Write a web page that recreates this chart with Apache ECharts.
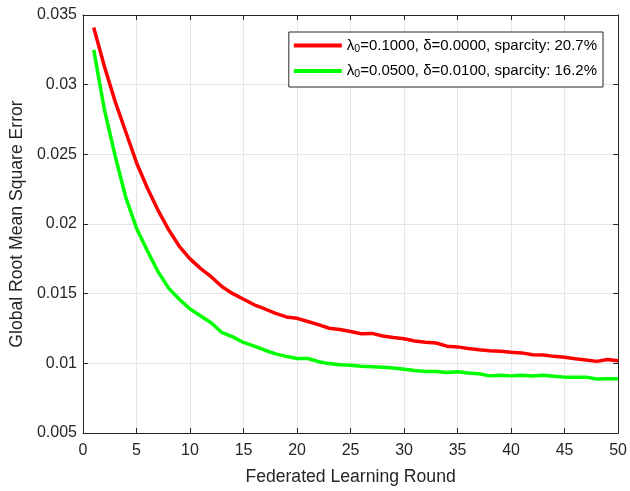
<!DOCTYPE html>
<html>
<head>
<meta charset="utf-8">
<script src="https://cdn.jsdelivr.net/npm/echarts@6/dist/echarts.min.js"></script>
<style>
html, body { margin: 0; padding: 0; background: #fff; }
#main { width: 630px; height: 491px; }
</style>
</head>
<body>
<div id="main"></div>
<script>
var rounds = [1, 2, 3, 4, 5, 6, 7, 8, 9, 10,
	11, 12, 13, 14, 15, 16, 17, 18, 19, 20,
	21, 22, 23, 24, 25, 26, 27, 28, 29, 30,
	31, 32, 33, 34, 35, 36, 37, 38, 39, 40,
	41, 42, 43, 44, 45, 46, 47, 48, 49, 50];
// lambda0=0.1, delta=0
var rmseRed = [0.0341, 0.0313, 0.0288, 0.0266, 0.0244, 0.0226, 0.0210, 0.0196, 0.0184, 0.0175,
	0.0168, 0.0162, 0.0155, 0.0150, 0.0146, 0.0142, 0.0139, 0.01358, 0.01333, 0.01323,
	0.0130, 0.01278, 0.01252, 0.01243, 0.01229, 0.01212, 0.01215, 0.01196, 0.01186, 0.01177,
	0.0116, 0.01151, 0.01146, 0.01123, 0.01118, 0.01106, 0.01097, 0.0109, 0.01087, 0.0108,
	0.01075, 0.01062, 0.01059, 0.0105, 0.01043, 0.01033, 0.01024, 0.01014, 0.01028, 0.01019];
// lambda0=0.05, delta=0.01
var rmseGreen = [0.0325, 0.0282, 0.0249, 0.0219, 0.0197, 0.0181, 0.0166, 0.0154, 0.0146, 0.0139,
	0.0134, 0.0129, 0.0122, 0.0119, 0.0115, 0.01123, 0.01094, 0.01068, 0.0105, 0.01035,
	0.01035, 0.01012, 0.00998, 0.0099, 0.00986, 0.00979, 0.00976, 0.00972, 0.00967, 0.00958,
	0.00948, 0.00941, 0.00941, 0.00934, 0.00939, 0.0093, 0.00925, 0.0091, 0.00915, 0.0091,
	0.00915, 0.00909, 0.00915, 0.00908, 0.00901, 0.00901, 0.00901, 0.00887, 0.00889, 0.00889];
var seriesNames = ['λ0=0.1000, δ=0.0000, sparcity: 20.7%', 'λ0=0.0500, δ=0.0100, sparcity: 16.2%'];
var seriesColors = ['#ff0000', '#00ff00'];

function pairs(ys){
	var out = [];
	for(var i = 0; i < rounds.length; i++){
		out.push([rounds[i], ys[i]]);
	}
	return out;
}

var axisColor = '#262626';
var fontFam = 'Liberation Sans, Arial, Helvetica, sans-serif';
var myChart = echarts.init(document.getElementById('main'));

function boxAxis(pos, min, max, step){
	return {
		type: 'value', position: pos, min: min, max: max, interval: step,
		axisLine: { show: true, onZero: false, lineStyle: { color: axisColor, width: 1 } },
		axisTick: { show: true, inside: true, length: 5, lineStyle: { color: axisColor } },
		axisLabel: { show: false },
		splitLine: { show: false }
	};
}

var option = {
	animation: false,
	backgroundColor: '#fff',
	textStyle: { fontFamily: fontFam },
	grid: { left: 83, right: 11, top: 15, bottom: 52 },
	legend: {
		orient: 'vertical',
		right: 27,
		top: 32,
		icon: 'rect',
		itemWidth: 48,
		itemHeight: 4,
		itemGap: 9,
		padding: [6, 6, 7, 5],
		backgroundColor: '#fff',
		borderColor: axisColor,
		borderWidth: 1,
		borderRadius: 0,
		data: seriesNames,
		formatter: function(name){
			return name.replace('λ0', 'λ{s|0}');
		},
		textStyle: {
			fontSize: 15, color: '#000', fontFamily: fontFam,
			rich: { s: { fontSize: 10.5, padding: [7, 0, 0, 0], fontFamily: fontFam, color: '#000' } }
		}
	},
	xAxis: [{
		type: 'value', min: 0, max: 50, interval: 5,
		name: 'Federated Learning Round', nameLocation: 'middle', nameGap: 35,
		nameTextStyle: { fontSize: 17.6, color: axisColor },
		axisLine: { show: true, onZero: false, lineStyle: { color: axisColor, width: 1 } },
		axisTick: { show: true, inside: true, length: 5, lineStyle: { color: axisColor } },
		axisLabel: { fontSize: 16, color: axisColor, margin: 10 },
		splitLine: { show: true, lineStyle: { color: '#e6e6e6', width: 1 } }
	}, boxAxis('top', 0, 50, 5)],
	yAxis: [{
		type: 'value', min: 0.005, max: 0.035, interval: 0.005,
		name: 'Global Root Mean Square Error', nameLocation: 'middle', nameGap: 56,
		nameTextStyle: { fontSize: 17.6, color: axisColor },
		axisLine: { show: true, onZero: false, lineStyle: { color: axisColor, width: 1 } },
		axisTick: { show: true, inside: true, length: 5, lineStyle: { color: axisColor } },
		axisLabel: {
			fontSize: 16, color: axisColor, margin: 6,
			formatter: function(v){ return String(+v.toFixed(3)); }
		},
		splitLine: { show: true, lineStyle: { color: '#e6e6e6', width: 1 } }
	}, boxAxis('right', 0.005, 0.035, 0.005)],
	series: [{
		name: seriesNames[0],
		type: 'line',
		symbol: 'none',
		showSymbol: false,
		color: seriesColors[0],
		lineStyle: { width: 3.5, color: seriesColors[0] },
		data: pairs(rmseRed)
	}, {
		name: seriesNames[1],
		type: 'line',
		symbol: 'none',
		showSymbol: false,
		color: seriesColors[1],
		lineStyle: { width: 3.5, color: seriesColors[1] },
		data: pairs(rmseGreen)
	}]
};
myChart.setOption(option);
</script>
</body>
</html>
